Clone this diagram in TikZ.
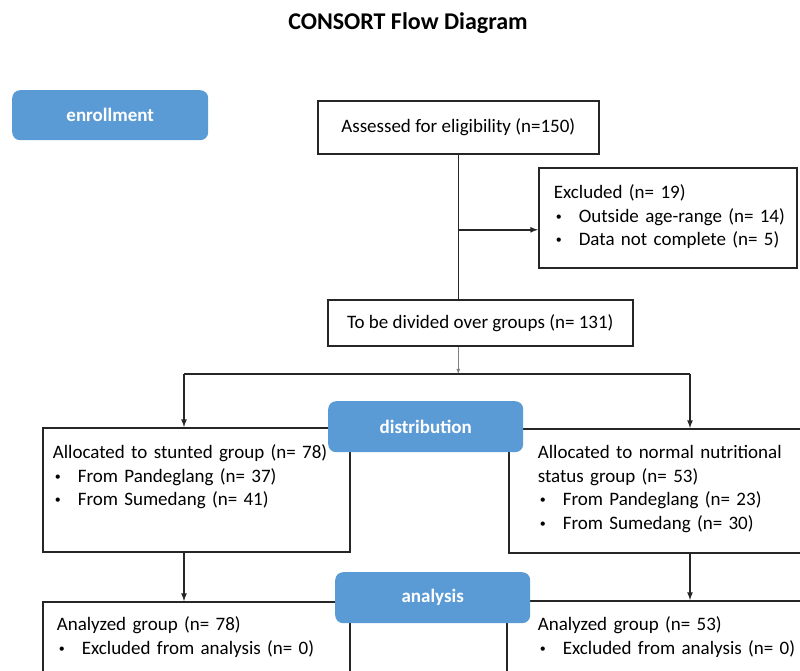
\documentclass[tikz,border=0pt]{standalone}
\usepackage{fontspec}
\setmainfont{Carlito}
\usetikzlibrary{positioning}
\definecolor{stageblue}{HTML}{5B9BD5}
\definecolor{boxline}{HTML}{262626}
\newcommand{\bulitem}{\makebox[25pt][l]{\hspace{2pt}\raisebox{2pt}{\fontsize{12}{12}\selectfont\textbullet}}}
\tikzset{
	stage/.style={fill=stageblue, rounded corners=8pt, anchor=north west, text=white, font=\fontsize{19}{23}\selectfont\bfseries},
	infobox/.style={draw=boxline, line width=1.6pt, fill=white, anchor=north west, align=left, font=\fontsize{19}{23.5}\selectfont, inner ysep=0pt},
	conn/.style={draw=boxline, line width=1.6pt},
}

\begin{document}
\begin{tikzpicture}[x=1pt, y=-1pt]
		\clip (0,0) rectangle (800,671);
		\node[font=\fontsize{24}{28}\selectfont\bfseries] (title) at (408,23) {CONSORT Flow Diagram};
		% boxes
		\node[infobox, align=center, minimum width=281pt, minimum height=53pt] (assess) at (317,100) {Assessed for eligibility (n=150)};
		\node[infobox, text width=228pt, inner xsep=15pt, text height=31pt, text depth=69pt] (excl) at (538,167)
			{\mbox{Excluded (n= 19)}\\\mbox{\bulitem Outside age-range (n= 14)}\\\mbox{\bulitem Data not complete (n= 5)}};
		\node[infobox, align=center, minimum width=305pt, minimum height=46pt] (divide) at (327,299) {To be divided over groups (n= 131)};
		\node[infobox, text width=287pt, inner xsep=10pt, text height=31pt, text depth=93pt] (stunted) at (42,427)
			{\mbox{Allocated to stunted group (n= 78)}\\\mbox{\bulitem From Pandeglang (n= 37)}\\\mbox{\bulitem From Sumedang (n= 41)}};
		\node[infobox, text width=262pt, inner xsep=29pt, text height=30pt, text depth=94pt] (normal) at (508,428)
			{\mbox{Allocated to normal nutritional}\\\mbox{status group (n= 53)}\\\mbox{\bulitem From Pandeglang (n= 23)}\\\mbox{\bulitem From Sumedang (n= 30)}};
		\node[infobox, text width=279pt, inner xsep=14pt, text height=29pt, text depth=90pt] (analL) at (42,601)
			{\mbox{Analyzed group (n= 78)}\\\mbox{\bulitem Excluded from analysis (n= 0)}};
		\node[infobox, text width=258pt, inner xsep=31pt, text height=30pt, text depth=90pt] (analR) at (506,600)
			{\mbox{Analyzed group (n= 53)}\\\mbox{\bulitem Excluded from analysis (n= 0)}};
		% connectors
		\coordinate (exclin) at ([yshift=-12pt]excl.west);
		\coordinate (splitL) at (184,374);
		\coordinate (split) at (assess.south |- splitL);
		\coordinate (splitR) at (690,374);
		\draw[conn] (assess.south) -- (assess.south |- divide.north);
		\draw[conn, -latex] (assess.south |- exclin) -- (exclin);
		\draw[gray, line width=0.8pt, -latex] (divide.south -| split) -- (split);
		\draw[conn] (splitL) -- (splitR);
		\draw[conn, -latex] (splitL) -- (splitL |- stunted.north);
		\draw[conn, -latex] (splitR) -- (splitR |- normal.north);
		\draw[conn, -latex] (splitL |- stunted.south) -- (splitL |- analL.north);
		\draw[conn, -latex] (splitR |- normal.south) -- (splitR |- analR.north);
		% stage labels
		\node[stage, minimum width=196pt, minimum height=50pt] (enroll) at (12,90) {enrollment};
		\node[stage, minimum width=195pt, minimum height=51pt] (distrib) at (328,401) {distribution};
		\node[stage, minimum width=195pt, minimum height=51pt] (analysis) at (335,572) {analysis};
	\end{tikzpicture}
\end{document}
